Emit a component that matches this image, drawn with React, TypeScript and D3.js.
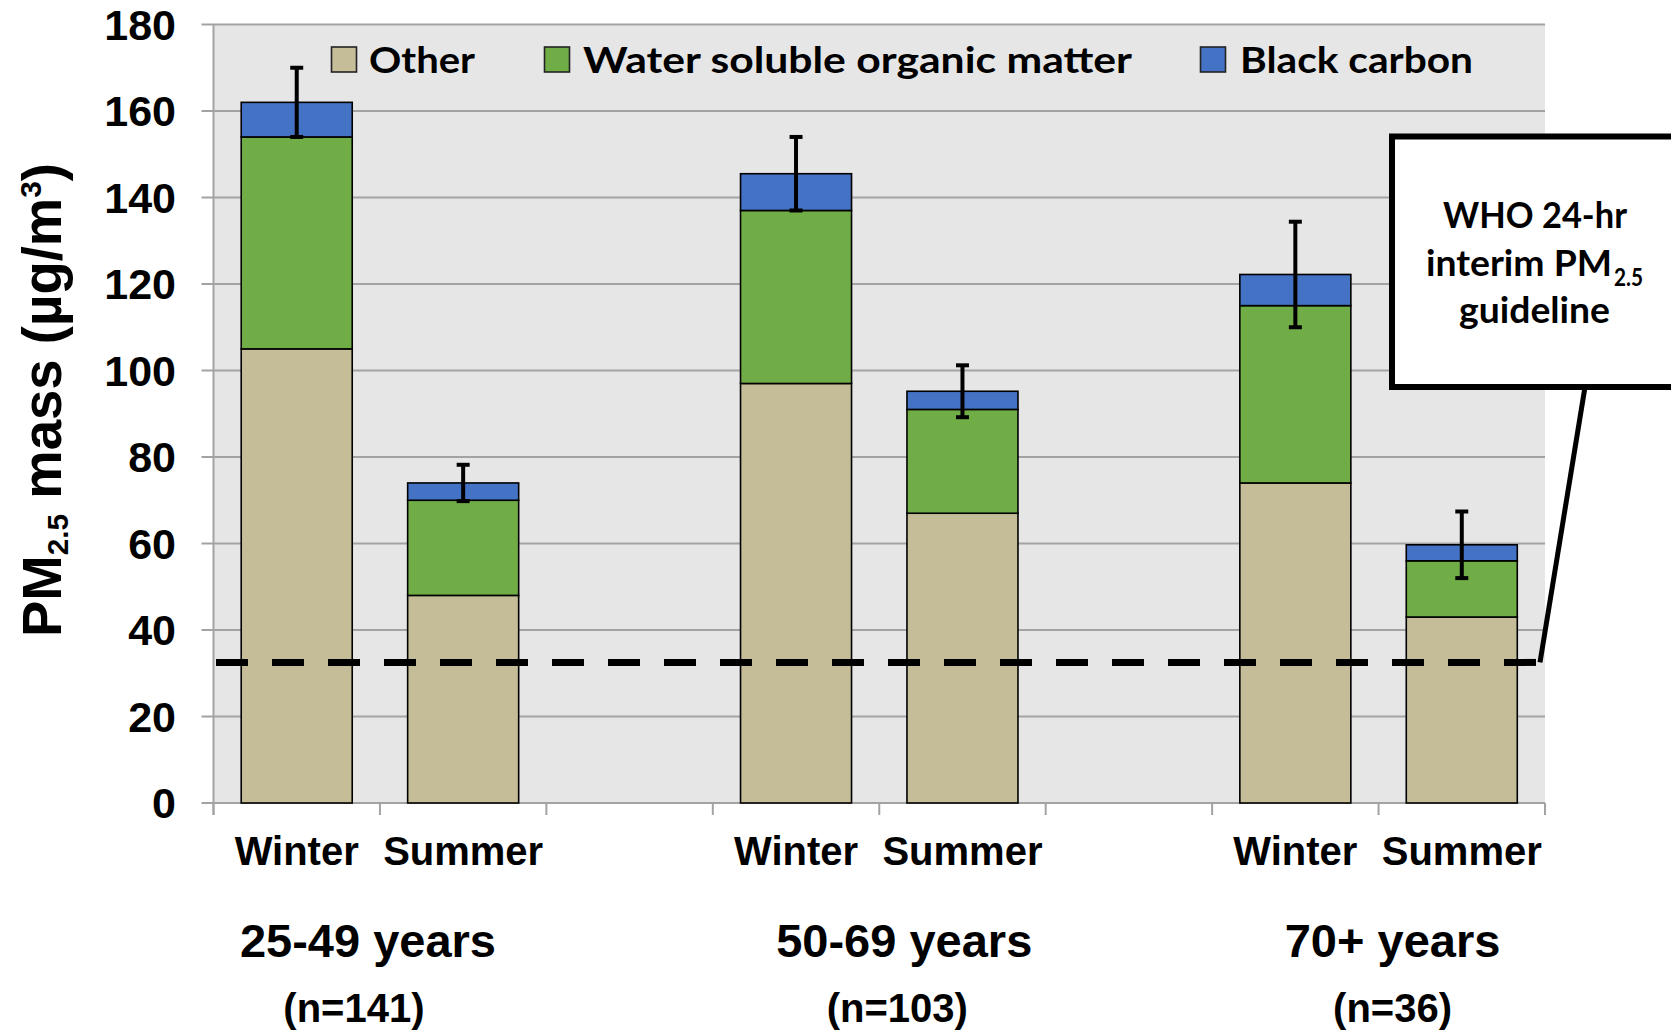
import React from "react";
import * as d3 from "d3";

const groups = ["25-49 years", "50-69 years", "70+ years"];
const groupN = ["(n=141)", "(n=103)", "(n=36)"];
const seasons = ["Winter", "Summer"];
const seriesNames = ["Other", "Water soluble organic matter", "Black carbon"];
const other = [105, 48, 97, 67, 74, 43];
const wsom = [49, 22, 40, 24, 41, 13];
const blackCarbon = [8, 4, 8.5, 4.2, 7.2, 3.7];
const errors = [8, 4.2, 8.5, 6, 12.2, 7.7];
const whoGuideline = 32.5;
const yTicks = [0, 20, 40, 60, 80, 100, 120, 140, 160, 180];

const colors = ["#c4bd97", "#70ad47", "#4472c4"];

const W = 1671;
const H = 1034;
const PL = 213.5;
const PR = 1545;
const PT = 24.5;
const PB = 803;

const ARIAL = "'Liberation Sans', Arial, sans-serif";
const CAL = "Lato, 'Open Sans', sans-serif";

// slot domain: two seasons per group plus a gap slot between groups
const slots: string[] = [];
groups.forEach((g, gi) => {
  seasons.forEach((s) => slots.push(g + "|" + s));
  if (gi < groups.length - 1) slots.push("gap" + gi);
});
const barKeys = slots.filter((s) => !s.startsWith("gap"));

const groupLabelOffset = [-12, 25, 14];
const groupNOffset = [-26, 18, 14];

const legendLayout = [
  { box: 331.5, text: 369, len: 106 },
  { box: 544.5, text: 583, len: 549 },
  { box: 1200.5, text: 1240, len: 233 },
];

export default function App() {
  const x = d3.scaleBand<string>().domain(slots).range([PL, PR]).padding(0);
  const y = d3.scaleLinear().domain([0, 180]).range([PB, PT]);
  const bw = x.bandwidth() * 0.667;

  const stackData = barKeys.map((k, i) => ({
    key: k,
    other: other[i],
    wsom: wsom[i],
    bc: blackCarbon[i],
  }));
  const stack = d3.stack<any>().keys(["other", "wsom", "bc"]);
  const layers = stack(stackData);

  const ticksX = d3.range(slots.length + 1).map((i) => PL + i * x.step());
  const dashEnd = PR - 8;
  const yWho = y(whoGuideline);

  return (
    <svg
      width={W}
      height={H}
      style={{ position: "absolute", left: 0, top: 0, background: "#fff" }}
    >
      <rect x={0} y={0} width={W} height={H} fill="#fff" />
      <rect x={PL} y={PT} width={PR - PL} height={PB - PT} fill="#e6e6e6" />
      {yTicks.map((t) => (
        <line
          key={"g" + t}
          x1={PL - 12}
          x2={PR}
          y1={y(t)}
          y2={y(t)}
          stroke="#a3a3a3"
          strokeWidth={2}
        />
      ))}
      <line x1={PL} x2={PL} y1={PT} y2={PB + 12} stroke="#a3a3a3" strokeWidth={2} />
      {ticksX.map((tx, i) => (
        <line key={"xt" + i} x1={tx} x2={tx} y1={PB} y2={PB + 12} stroke="#a3a3a3" strokeWidth={2} />
      ))}
      {yTicks.map((t) => (
        <text
          key={"yl" + t}
          x={176}
          y={y(t)}
          dy="0.36em"
          textAnchor="end"
          fontFamily={ARIAL}
          fontWeight="bold"
          fontSize={43}
          fill="#000"
        >
          {t}
        </text>
      ))}

      {/* bars */}
      {layers.map((layer, li) =>
        layer.map((d, i) => (
          <rect
            key={"b" + li + "-" + i}
            x={(x(barKeys[i]) as number) + (x.bandwidth() - bw) / 2}
            y={y(d[1])}
            width={bw}
            height={y(d[0]) - y(d[1])}
            fill={colors[li]}
            stroke="#000"
            strokeWidth={1.6}
          />
        ))
      )}

      {/* error bars */}
      {barKeys.map((k, i) => {
        const total = other[i] + wsom[i] + blackCarbon[i];
        const cx = (x(k) as number) + x.bandwidth() / 2;
        return (
          <g key={"e" + i} stroke="#000" strokeWidth={4}>
            <line x1={cx} x2={cx} y1={y(total + errors[i])} y2={y(total - errors[i])} />
            <line x1={cx - 6.5} x2={cx + 6.5} y1={y(total + errors[i])} y2={y(total + errors[i])} />
            <line x1={cx - 6.5} x2={cx + 6.5} y1={y(total - errors[i])} y2={y(total - errors[i])} />
          </g>
        );
      })}

      {/* WHO guideline */}
      <line
        x1={216}
        x2={dashEnd}
        y1={yWho}
        y2={yWho}
        stroke="#000"
        strokeWidth={7}
        strokeDasharray="32 24"
      />

      {/* legend */}
      {seriesNames.map((s, i) => (
        <g key={"lg" + i}>
          <rect
            x={legendLayout[i].box}
            y={47}
            width={25}
            height={25}
            fill={colors[i]}
            stroke="#222"
            strokeWidth={1.6}
          />
          <text
            x={legendLayout[i].text}
            y={73}
            fontFamily={CAL}
            fontWeight="bold"
            fontSize={37}
            textLength={legendLayout[i].len}
            lengthAdjust="spacingAndGlyphs"
            fill="#000"
          >
            {s}
          </text>
        </g>
      ))}

      {/* callout */}
      <line x1={1585} y1={387} x2={dashEnd + 3} y2={yWho} stroke="#000" strokeWidth={5} />
      <rect x={1392} y={136.5} width={320} height={250.5} fill="#fff" stroke="#000" strokeWidth={6} />
      <text x={1535} y={228} textAnchor="middle" fontFamily={CAL} fontWeight="bold" fontSize={37} textLength={184} lengthAdjust="spacingAndGlyphs">
        WHO 24-hr
      </text>
      <text x={1426} y={276} fontFamily={CAL} fontWeight="bold" fontSize={37} textLength={186} lengthAdjust="spacingAndGlyphs">
        interim PM
      </text>
      <text x={1614} y={286} fontFamily={CAL} fontWeight="bold" fontSize={24} textLength={29} lengthAdjust="spacingAndGlyphs">
        2.5
      </text>
      <text x={1534.5} y={323} textAnchor="middle" fontFamily={CAL} fontWeight="bold" fontSize={37} textLength={151} lengthAdjust="spacingAndGlyphs">
        guideline
      </text>

      {/* y axis title */}
      <text
        transform={`translate(61,400) rotate(-90)`}
        textAnchor="middle"
        fontFamily={ARIAL}
        fontWeight="bold"
        fontSize={55}
        textLength={474}
        lengthAdjust="spacingAndGlyphs"
        fill="#000"
      >
        PM
        <tspan fontSize={30} dy={7}>2.5</tspan>
        <tspan dy={-7}> mass (µg/m</tspan>
        <tspan fontSize={30} dy={-20}>3</tspan>
        <tspan dy={20}>)</tspan>
      </text>

      {/* x labels */}
      {barKeys.map((k, i) => (
        <text
          key={"xl" + i}
          x={(x(k) as number) + x.bandwidth() / 2}
          y={865}
          textAnchor="middle"
          fontFamily={ARIAL}
          fontWeight="bold"
          fontSize={40}
          fill="#000"
        >
          {k.split("|")[1]}
        </text>
      ))}
      {groups.map((g, gi) => {
        const cx = (x(g + "|" + seasons[1]) as number);
        return (
          <g key={"gl" + gi}>
            <text
              x={cx + groupLabelOffset[gi]}
              y={957}
              textAnchor="middle"
              fontFamily={ARIAL}
              fontWeight="bold"
              fontSize={47}
              fill="#000"
            >
              {g}
            </text>
            <text
              x={cx + groupNOffset[gi]}
              y={1022}
              textAnchor="middle"
              fontFamily={ARIAL}
              fontWeight="bold"
              fontSize={40}
              fill="#000"
            >
              {groupN[gi]}
            </text>
          </g>
        );
      })}
    </svg>
  );
}
